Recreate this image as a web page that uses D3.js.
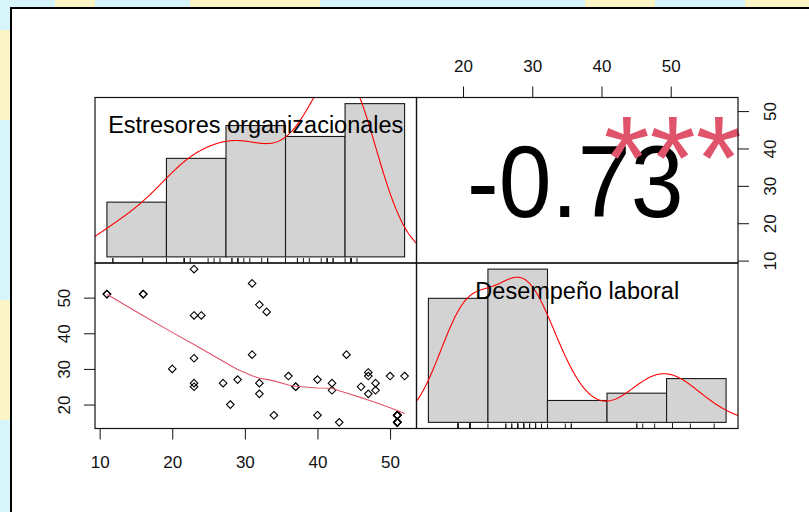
<!DOCTYPE html>
<html><head><meta charset="utf-8">
<script src="https://cdn.jsdelivr.net/npm/d3@7"></script>
<style>
body{margin:0;background:#fff}
svg{display:block}
text{font-family:"Liberation Sans",Arial,Helvetica,sans-serif}
</style>
</head><body>
<svg id="c" width="809" height="512"></svg>
<script>
// ---------------- DATA ----------------
const varNames = ["Estresores organizacionales", "Desempeño laboral"];
// one entry per respondent (n = 51); duplicates hidden under overlapping markers
const estresores = [11,11,16,16,20,23,23,24,23,23,23,27,28,29,31,31,32,33,32,37,32,34,36,37,40,40,42,42,43,44,46,47,47,47,48,48,50,
  51,51,51,51,51,51,51,51,51,51,51,51,51,52];
const desempeno  = [51,51,51,51,30,58,45,45,33,26,25,26,20,27,54,34,48,46,26,25,23,17,28,25,27,17,26,24,15,34,25,29,28,23,26,24,28,
  17,17,17,17,17,17,17,15,15,15,15,15,15,28];
const corrText = ["-0.73"];
const sigStars = ["***"];
const histBreaks = [10,20,30,40,50,60];
const ticksEstresores = [10,20,30,40,50];
const ticksDesempenoLeft = [20,30,40,50];
const ticksDesempenoTop = [20,30,40,50];
const ticksEstresoresRight = [10,20,30,40,50];

// ---------------- LAYOUT ----------------
const L=95, M=416.5, R=738, T=97.5, MID=263, B=428.5;
const FONT='"Liberation Sans",Arial,Helvetica,sans-serif';
const svg=d3.select("#c");

// background / frame
svg.append("rect").attr("width",809).attr("height",512).attr("fill","#d5f5fa");
const wm=svg.append("g").attr("fill","#fbf4c6");
[[55,0,40,9],[190,0,130,9],[585,0,70,9],[745,0,64,9],[0,30,11,90],[0,300,11,120]].forEach(r=>wm.append("rect").attr("x",r[0]).attr("y",r[1]).attr("width",r[2]).attr("height",r[3]));
svg.append("rect").attr("x",11).attr("y",8).attr("width",820).attr("height",520)
  .attr("fill","#fff").attr("stroke","#000").attr("stroke-width",2);

// ---------------- HELPERS ----------------
const pad=e=>[e[0]-0.04*(e[1]-e[0]), e[1]+0.04*(e[1]-e[0])];
function kde(v){
  const n=v.length, sd=d3.deviation(v);
  const q=v.slice().sort(d3.ascending);
  const iqr=d3.quantileSorted(q,0.75)-d3.quantileSorted(q,0.25);
  let lo=Math.min(sd, iqr/1.34); if(!(lo>0)) lo=sd||1;
  const bw=0.9*lo*Math.pow(n,-0.2);
  const from=q[0]-3*bw, to=q[n-1]+3*bw;
  return d3.range(512).map(i=>{const t=from+(to-from)*i/511;
    return [t, d3.sum(v,d=>Math.exp(-0.5*((t-d)/bw)**2))/(n*bw*Math.sqrt(2*Math.PI))];});
}
function histCounts(v,br){ // R style: right-closed, include lowest
  const c=new Array(br.length-1).fill(0);
  v.forEach(d=>{for(let k=0;k<br.length-1;k++){ if((d>br[k]||(k===0&&d>=br[k]))&&d<=br[k+1]){c[k]++;break;} }});
  return c;
}
function lowess(xIn,yIn,f=2/3,iter=3){
  const idx=d3.range(xIn.length).sort((a,b)=>xIn[a]-xIn[b]||a-b);
  const x=idx.map(i=>xIn[i]), y=idx.map(i=>yIn[i]); const n=x.length;
  const ns=Math.max(2,Math.min(n,Math.floor(f*n+1e-7)));
  const range=x[n-1]-x[0], delta=0.01*range;
  const ys=new Array(n).fill(0), rw=new Array(n).fill(1), res=new Array(n).fill(0), w=new Array(n).fill(0);
  function lowest(xs,nleft,nright,userw){
    const h=Math.max(xs-x[nleft],x[nright]-xs), h9=.999*h, h1=.001*h;
    let a=0,j=nleft;
    while(j<n){ w[j]=0; const r=Math.abs(x[j]-xs);
      if(r<=h9){ w[j]= r<=h1?1:Math.pow(1-Math.pow(r/h,3),3); if(userw) w[j]*=rw[j]; a+=w[j]; }
      else if(x[j]>xs) break; j++; }
    const nrt=j-1; if(a<=0) return null;
    for(j=nleft;j<=nrt;j++) w[j]/=a;
    if(h>0){ a=0; for(j=nleft;j<=nrt;j++) a+=w[j]*x[j];
      let b=xs-a,c=0; for(j=nleft;j<=nrt;j++) c+=w[j]*(x[j]-a)*(x[j]-a);
      if(Math.sqrt(c)>.001*range){ b/=c; for(j=nleft;j<=nrt;j++) w[j]*=(b*(x[j]-a)+1); } }
    let s=0; for(j=nleft;j<=nrt;j++) s+=w[j]*y[j]; return s;
  }
  for(let it=1;it<=iter+1;it++){
    let nleft=0,nright=ns-1,last=-1,i=0;
    for(;;){
      if(nright<n-1){ const d1=x[i]-x[nleft], d2=x[nright+1]-x[i]; if(d1>d2){nleft++;nright++;continue;} }
      const v=lowest(x[i],nleft,nright,it>1); ys[i]= v===null?y[i]:v;
      if(last<i-1){ const den=x[i]-x[last]; for(let j=last+1;j<i;j++){const al=(x[j]-x[last])/den; ys[j]=al*ys[i]+(1-al)*ys[last];} }
      last=i; const cut=x[last]+delta;
      for(i=last+1;i<n;i++){ if(x[i]>cut) break; if(x[i]===x[last]){ys[i]=ys[last];last=i;} }
      i=Math.max(last+1,i-1);
      if(last>=n-1) break;
    }
    for(let k=0;k<n;k++) res[k]=y[k]-ys[k];
    if(it>iter) break;
    const sc=d3.sum(res,Math.abs)/n;
    const ar=res.map(Math.abs).sort((a,b)=>a-b); const m1=Math.floor(n/2);
    const cmad = n%2===0 ? 3*(ar[m1]+ar[n-m1-1]) : 6*ar[m1];
    if(cmad<1e-7*sc) break;
    const c9=.999*cmad,c1=.001*cmad;
    for(let k=0;k<n;k++){const r=Math.abs(res[k]); rw[k]= r<=c1?1:(r<=c9?Math.pow(1-Math.pow(r/cmad,2),2):0);}
  }
  return x.map((xx,k)=>[xx,ys[k]]);
}

// clip paths
const defs=svg.append("defs");
[["p11",L,T,M,MID],["p12",M,T,R,MID],["p21",L,MID,M,B],["p22",M,MID,R,B]].forEach(p=>{
  defs.append("clipPath").attr("id",p[0]).append("rect").attr("x",p[1]).attr("y",p[2]).attr("width",p[3]-p[1]).attr("height",p[4]-p[2]);
});

// ---------------- DIAGONAL: histograms + density + rug ----------------
function diag(values,x0,x1,y0,y1,clip,label){
  const g=svg.append("g").attr("clip-path",`url(#${clip})`);
  const counts=histCounts(values,histBreaks);
  const bw=histBreaks[1]-histBreaks[0];
  const dens=counts.map(c=>c/(values.length*bw));
  const maxD=d3.max(dens);
  const hx=d3.scaleLinear().domain(pad([histBreaks[0],histBreaks[histBreaks.length-1]])).range([x0,x1]);
  const hy=d3.scaleLinear().domain(pad([0,maxD])).range([y1,y0]);
  g.selectAll("rect.bar").data(dens).join("rect").attr("class","bar")
    .attr("x",(d,i)=>hx(histBreaks[i])).attr("width",(d,i)=>hx(histBreaks[i+1])-hx(histBreaks[i]))
    .attr("y",d=>hy(d)).attr("height",d=>hy(0)-hy(d))
    .attr("fill","#d3d3d3").attr("stroke","#1a1a1a").attr("stroke-width",1.1);
  g.append("path").datum(kde(values)).attr("fill","none").attr("stroke","#ff0000").attr("stroke-width",1.1)
    .attr("d",d3.line().x(d=>hx(d[0])).y(d=>hy(d[1])));
  const tl=0.03*(y1-y0);
  g.selectAll("line.rug").data(values).join("line").attr("class","rug")
    .attr("x1",d=>hx(d)).attr("x2",d=>hx(d)).attr("y1",y1).attr("y2",y1-tl)
    .attr("stroke","#1a1a1a").attr("stroke-width",1);
  svg.append("text").attr("x",(x0+x1)/2).attr("y",y1-0.8333*(y1-y0)+8.3).attr("text-anchor","middle")
    .attr("font-size",23.5).attr("fill","#000").text(label);
}
diag(estresores,L,M,T,MID,"p11",varNames[0]);
diag(desempeno,M,R,MID,B,"p22",varNames[1]);

// ---------------- LOWER: scatter + lowess ----------------
const xE=d3.scaleLinear().domain(pad(d3.extent(estresores))).range([L,M]);
const yD=d3.scaleLinear().domain(pad(d3.extent(desempeno))).range([B,MID]);
const xD=d3.scaleLinear().domain(pad(d3.extent(desempeno))).range([M,R]);
const yE=d3.scaleLinear().domain(pad(d3.extent(estresores))).range([MID,T]);
const pts=d3.zip(estresores,desempeno);
const sc=svg.append("g").attr("clip-path","url(#p21)");
const rr=3.8;
sc.selectAll("path.pt").data(pts).join("path").attr("class","pt")
  .attr("d",d=>{const x=xE(d[0]),y=yD(d[1]);return `M${x},${y-rr}L${x+rr},${y}L${x},${y+rr}L${x-rr},${y}Z`;})
  .attr("fill","none").attr("stroke","#000").attr("stroke-width",1.1);
sc.append("path").datum(lowess(estresores,desempeno)).attr("fill","none").attr("stroke","#df536b").attr("stroke-width",1.1)
  .attr("d",d3.line().x(d=>xE(d[0])).y(d=>yD(d[1])));

// ---------------- UPPER: correlation ----------------
svg.append("text").attr("transform",`translate(${(M+R)/2-2},217) scale(1,1.07)`).attr("text-anchor","middle")
  .attr("font-size",95).attr("fill","#000").text(corrText[0]);
svg.append("text").attr("x",M+0.8*(R-M)-1).attr("y",199).attr("text-anchor","middle")
  .attr("font-size",118).attr("fill","#df536b").text(sigStars[0]);

// ---------------- FRAMES ----------------
[[L,T,M,MID],[M,T,R,MID],[L,MID,M,B],[M,MID,R,B]].forEach(p=>{
  svg.append("rect").attr("x",p[0]).attr("y",p[1]).attr("width",p[2]-p[0]).attr("height",p[3]-p[1])
    .attr("fill","none").attr("stroke","#111").attr("stroke-width",1.2);
});

// ---------------- AXES ----------------
function styleAxis(g){ g.select(".domain").remove(); g.attr("font-size",17).attr("font-family",FONT);
  g.selectAll("line").attr("stroke","#111"); g.selectAll("text").attr("fill","#111"); }
const axB=svg.append("g").attr("transform",`translate(0,${B})`)
  .call(d3.axisBottom(xE).tickValues(ticksEstresores).tickSize(11).tickPadding(16).tickFormat(d3.format("d")));
styleAxis(axB);
const axT=svg.append("g").attr("transform",`translate(0,${T})`)
  .call(d3.axisTop(xD).tickValues(ticksDesempenoTop).tickSize(11).tickPadding(15).tickFormat(d3.format("d")));
styleAxis(axT);
const axL=svg.append("g").attr("transform",`translate(${L},0)`)
  .call(d3.axisLeft(yD).tickValues(ticksDesempenoLeft).tickSize(11).tickFormat(d3.format("d")));
styleAxis(axL);
axL.selectAll("text").attr("x",null).attr("dy",null).attr("text-anchor","middle").attr("transform","translate(-25,0) rotate(-90)");
const axR=svg.append("g").attr("transform",`translate(${R},0)`)
  .call(d3.axisRight(yE).tickValues(ticksEstresoresRight).tickSize(11).tickFormat(d3.format("d")));
styleAxis(axR);
axR.selectAll("text").attr("x",null).attr("dy",null).attr("text-anchor","middle").attr("transform","translate(37.7,0) rotate(-90)");
</script>
</body></html>
